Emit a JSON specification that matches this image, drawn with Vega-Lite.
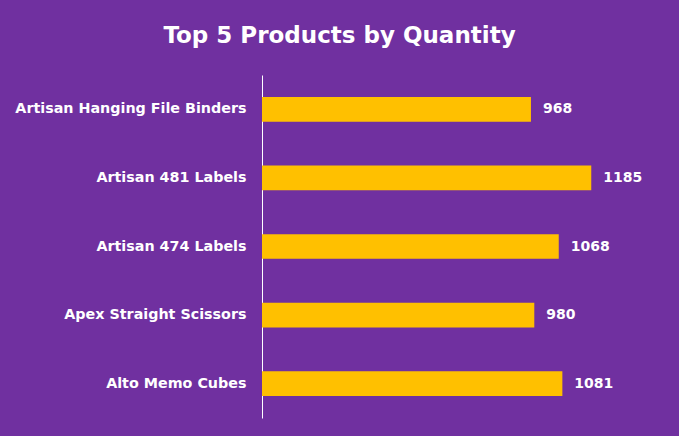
{
  "$schema": "https://vega.github.io/schema/vega-lite/v6.json",
  "width": 389,
  "height": 343,
  "autosize": {"type": "none"},
  "padding": {"left": 262, "top": 75, "right": 28, "bottom": 18},
  "background": "#7030A0",
  "config": {"view": {"stroke": null}},
  "title": {
    "text": "Top 5 Products by Quantity",
    "color": "white",
    "font": "DejaVu Sans",
    "fontSize": 23,
    "fontWeight": "bold",
    "anchor": "middle",
    "frame": "group",
    "dx": -117,
    "offset": 27
  },
  "data": {
    "values": [
      {"product": "Artisan Hanging File Binders", "quantity": 968},
      {"product": "Artisan 481 Labels", "quantity": 1185},
      {"product": "Artisan 474 Labels", "quantity": 1068},
      {"product": "Apex Straight Scissors", "quantity": 980},
      {"product": "Alto Memo Cubes", "quantity": 1081}
    ]
  },
  "encoding": {
    "y": {
      "field": "product",
      "type": "nominal",
      "sort": null,
      "scale": {"paddingInner": 0.64, "paddingOuter": 0.32},
      "axis": {
        "title": null,
        "ticks": false,
        "domainColor": "white",
        "domainWidth": 1,
        "labelColor": "white",
        "labelFont": "DejaVu Sans",
        "labelFontSize": 14.3,
        "labelFontWeight": "bold",
        "labelPadding": 16,
        "labelLimit": 300
      }
    },
    "x": {
      "field": "quantity",
      "type": "quantitative",
      "scale": {"domain": [0, 1400]},
      "axis": null
    }
  },
  "layer": [
    {"mark": {"type": "bar", "color": "#FFC000"}},
    {
      "mark": {"type": "text", "align": "left", "dx": 12, "color": "white", "font": "DejaVu Sans", "fontSize": 14, "fontWeight": "bold"},
      "encoding": {"text": {"field": "quantity", "type": "quantitative"}}
    }
  ]
}
